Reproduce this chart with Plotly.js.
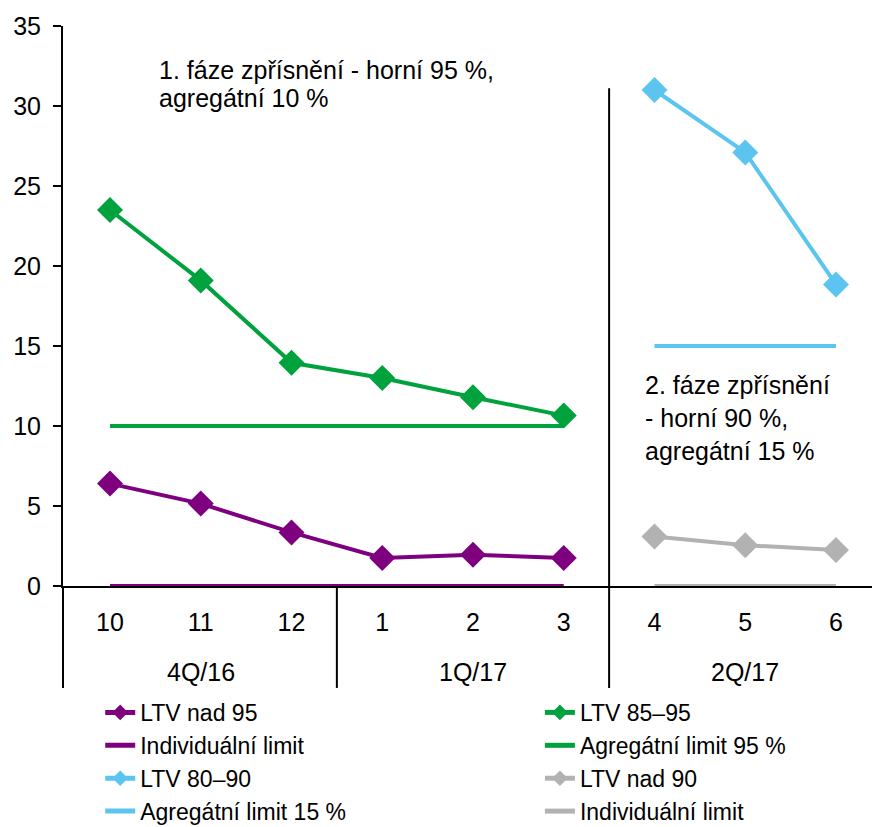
<!DOCTYPE html>
<html>
<head>
<meta charset="utf-8">
<script src="https://cdn.plot.ly/plotly-3.0.1.min.js"></script>
<style>
  html, body { margin: 0; padding: 0; background: #fff; }
  #chart { width: 872px; height: 827px; }
</style>
</head>
<body>
<div id="chart"></div>
<script>
// Months on the category axis and the quarters they belong to
const months = ['10', '11', '12', '1', '2', '3', '4', '5', '6'];
const quarters = ['4Q/16', '1Q/17', '2Q/17'];
const quarterCenters = ['11', '2', '5'];

// Phase 1 (Oct 2016 – Mar 2017)
const phase1Months = ['10', '11', '12', '1', '2', '3'];
const ltvOver95 = [6.4, 5.15, 3.35, 1.75, 1.95, 1.75];
const ltv85to95 = [23.5, 19.1, 13.95, 13.0, 11.8, 10.65];
const individualLimit1 = [0, 0, 0, 0, 0, 0];
const aggregateLimit95 = [10, 10, 10, 10, 10, 10];

// Phase 2 (Apr – Jun 2017)
const phase2Months = ['4', '5', '6'];
const ltv80to90 = [31.0, 27.1, 18.85];
const ltvOver90 = [3.1, 2.55, 2.25];
const aggregateLimit15 = [15, 15, 15];
const individualLimit2 = [0, 0, 0];

const phase1Note = ['1. fáze zpřísnění - horní 95 %,', 'agregátní 10 %'];
const phase2Note = ['2. fáze zpřísnění', '- horní 90 %,', 'agregátní 15 %'];

const PURPLE = '#7F007F';
const GREEN = '#00A23E';
const BLUE = '#5BC5F0';
const GREY = '#B2B2B2';
const FONT = 'Arial, "Liberation Sans", sans-serif';
const TEXT_SIZE = 25;
const LEGEND_SIZE = 23;

function series(name, x, y, color, withMarkers, legendId, rank) {
  return {
    type: 'scatter',
    mode: withMarkers ? 'lines+markers' : 'lines',
    name: name,
    x: x,
    y: y,
    cliponaxis: false,
    legend: legendId,
    legendrank: rank,
    line: { color: color, width: 4 },
    marker: { symbol: 'diamond', size: 20, color: color },
    hoverinfo: 'x+y+name'
  };
}

// limits first so the data series are drawn on top of them
const traces = [
  series('Individuální limit', phase1Months, individualLimit1, PURPLE, false, 'legend', 2),
  series('Agregátní limit 95 %', phase1Months, aggregateLimit95, GREEN, false, 'legend2', 2),
  series('Agregátní limit 15 %', phase2Months, aggregateLimit15, BLUE, false, 'legend', 4),
  series('Individuální limit', phase2Months, individualLimit2, GREY, false, 'legend2', 4),
  series('LTV nad 95', phase1Months, ltvOver95, PURPLE, true, 'legend', 1),
  series('LTV 85–95', phase1Months, ltv85to95, GREEN, true, 'legend2', 1),
  series('LTV 80–90', phase2Months, ltv80to90, BLUE, true, 'legend', 3),
  series('LTV nad 90', phase2Months, ltvOver90, GREY, true, 'legend2', 3)
];

const textFont = { family: FONT, size: TEXT_SIZE, color: '#000' };
const annotations = [];
phase1Note.forEach((line, i) => {
  annotations.push({
    text: line, xref: 'x', yref: 'y', x: 0.52, y: 32.25 - i * 1.75,
    xanchor: 'left', yanchor: 'middle', showarrow: false, font: textFont
  });
});
phase2Note.forEach((line, i) => {
  annotations.push({
    text: line, xref: 'x', yref: 'y', x: 5.87, y: 12.55 - i * 2.06,
    xanchor: 'left', yanchor: 'middle', showarrow: false, font: textFont
  });
});
// quarter names centred under their three months
quarters.forEach((q, i) => {
  annotations.push({
    text: q, xref: 'x', yref: 'paper', x: months.indexOf(quarterCenters[i]), y: -0.153,
    xanchor: 'center', yanchor: 'middle', showarrow: false, font: textFont
  });
});

const lineStyle = { color: '#000', width: 2 };
const shapes = [
  // y axis continues down through the label rows
  { type: 'line', xref: 'paper', yref: 'paper', x0: 0, x1: 0, y0: 0, y1: -0.182, line: lineStyle },
  // quarter divider between December and January
  { type: 'line', xref: 'x', yref: 'paper', x0: 2.5, x1: 2.5, y0: 0, y1: -0.182, line: lineStyle },
  // divider between the two tightening phases
  { type: 'line', xref: 'x', yref: 'paper', x0: 5.5, x1: 5.5, y0: 0.889, y1: -0.182, line: lineStyle }
];

const legendBase = {
  yref: 'container', y: 0.1645, xanchor: 'left', yanchor: 'top',
  orientation: 'v', bgcolor: 'rgba(0,0,0,0)',
  font: { family: FONT, size: LEGEND_SIZE, color: '#000' },
  traceorder: 'normal', tracegroupgap: 0, itemsizing: 'constant'
};

const layout = {
  width: 872,
  height: 827,
  margin: { l: 63, r: 0, t: 26, b: 241 },
  paper_bgcolor: '#fff',
  plot_bgcolor: '#fff',
  font: textFont,
  showlegend: true,
  xaxis: {
    type: 'category',
    categoryorder: 'array',
    categoryarray: months,
    range: [-0.518, 8.397],
    tickvals: months,
    ticktext: months,
    ticks: '',
    ticklabelstandoff: 13,
    showgrid: false,
    zeroline: false,
    showline: true,
    linecolor: '#000',
    linewidth: 2,
    layer: 'below traces',
    tickfont: textFont
  },
  yaxis: {
    range: [0, 35],
    dtick: 5,
    tick0: 0,
    ticks: 'outside',
    ticklen: 8,
    tickwidth: 2,
    tickcolor: '#000',
    ticklabelstandoff: 7,
    showgrid: false,
    zeroline: false,
    showline: true,
    linecolor: '#000',
    linewidth: 2,
    layer: 'below traces',
    tickfont: textFont
  },
  legend: Object.assign({ x: 0.046 }, legendBase),
  legend2: Object.assign({ x: 0.5895 }, legendBase),
  annotations: annotations,
  shapes: shapes,
  hovermode: 'closest'
};

Plotly.newPlot('chart', traces, layout, { displayModeBar: false });
</script>
</body>
</html>
